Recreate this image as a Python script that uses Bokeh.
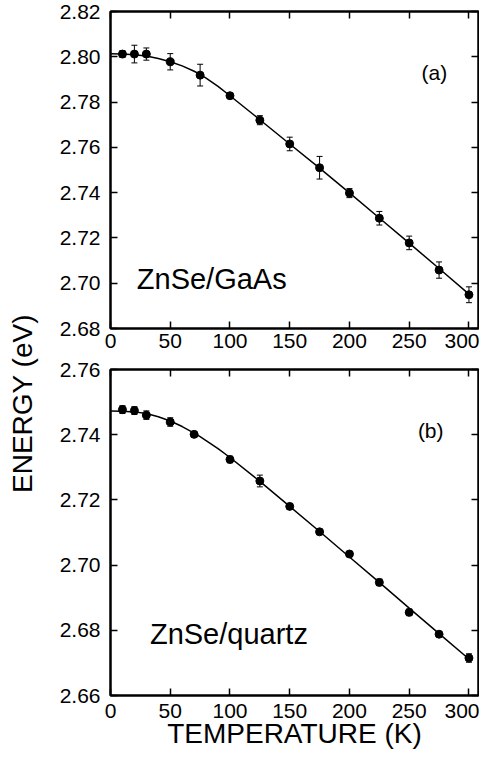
import math
from bokeh.plotting import figure
from bokeh.layouts import row, column
from bokeh.models import (ColumnDataSource, Whisker, TeeHead, LinearAxis, FixedTicker,
                          Range1d, Label, CustomJSTickFormatter, PrintfTickFormatter)
from bokeh.embed import file_html
from bokeh.resources import INLINE

# ---------------- data ----------------
temp_a = [10, 20, 30, 50, 75, 100, 125, 150, 175, 200, 225, 250, 275, 300]
energy_a = [2.8012, 2.8012, 2.8012, 2.7978, 2.7919, 2.7828, 2.7720, 2.7615, 2.7510,
            2.7398, 2.7287, 2.7178, 2.7058, 2.6949]
err_a = [0.0015, 0.0039, 0.0027, 0.0036, 0.0048, 0.0005, 0.0020, 0.0030, 0.0050,
         0.0020, 0.0030, 0.0030, 0.0036, 0.0035]

temp_b = [10, 20, 30, 50, 70, 100, 125, 150, 175, 200, 225, 250, 275, 300]
energy_b = [2.7477, 2.7474, 2.7460, 2.7439, 2.7401, 2.7324, 2.7258, 2.7180, 2.7102,
            2.7034, 2.6947, 2.6855, 2.6788, 2.6715]
err_b = [0.0012, 0.0012, 0.0013, 0.0013, 0.0008, 0.0010, 0.0018, 0.0008, 0.0008,
         0.0008, 0.0010, 0.0010, 0.0008, 0.0013]

fit_temp = [0, 10, 20, 30, 40, 50, 60, 70, 75, 80, 90, 100, 125, 150, 175, 200, 225,
            250, 275, 300]
fit_a = [2.8013, 2.8012, 2.8009, 2.8003, 2.7992, 2.7978, 2.7960, 2.7936, 2.7922, 2.7906,
         2.7869, 2.7828, 2.7722, 2.7615, 2.7508, 2.7399, 2.7288, 2.7177, 2.7065, 2.6952]
fit_b = [2.7473, 2.7472, 2.7470, 2.7465, 2.7455, 2.7442, 2.7425, 2.7405, 2.7394, 2.7382,
         2.7357, 2.7330, 2.7257, 2.7180, 2.7103, 2.7025, 2.6947, 2.6868, 2.6790, 2.6712]

x_ticks = [0, 50, 100, 150, 200, 250, 300]
y_ticks_a = [2.68, 2.70, 2.72, 2.74, 2.76, 2.78, 2.80, 2.82]
y_ticks_b = [2.66, 2.68, 2.70, 2.72, 2.74, 2.76]

FONT = "Liberation Sans"
TICK_FS = "21px"
BIG_FS = "28px"


def style_axes(p, yticks, x_standoff):
    p.grid.visible = False
    p.outline_line_color = "black"
    p.outline_line_width = 2
    xax = p.below[0]
    yax = p.left[0]
    for ax in (xax, yax):
        ax.axis_line_width = 2
        ax.major_tick_in = 7
        ax.major_tick_out = 0
        ax.major_tick_line_width = 1.5
        ax.minor_tick_line_color = None
        ax.major_label_text_font = FONT
        ax.major_label_text_font_size = TICK_FS
        ax.major_label_text_color = "black"
    xax.ticker = FixedTicker(ticks=x_ticks)
    xax.major_label_standoff = x_standoff
    yax.ticker = FixedTicker(ticks=yticks)
    yax.formatter = PrintfTickFormatter(format="%.2f")
    yax.major_label_standoff = 10
    # inner ticks on the opposite sides, without labels
    for loc, ticks in (("above", x_ticks), ("right", yticks)):
        ax = LinearAxis(ticker=FixedTicker(ticks=ticks),
                        formatter=CustomJSTickFormatter(code="return ''"),
                        major_tick_in=7, major_tick_out=0, major_tick_line_width=1.5,
                        minor_tick_line_color=None, axis_line_width=2,
                        major_label_text_font_size="1px", major_label_standoff=0)
        p.add_layout(ax, loc)
    return xax, yax


def draw_series(p, temps, energies, errs, fit_vals):
    src = ColumnDataSource(dict(
        x=temps, y=energies,
        upper=[e + d for e, d in zip(energies, errs)],
        lower=[e - d for e, d in zip(energies, errs)]))
    p.add_layout(Whisker(source=src, base="x", upper="upper", lower="lower",
                         line_color="black", line_width=1,
                         upper_head=TeeHead(size=6, line_width=1, line_color="black"),
                         lower_head=TeeHead(size=6, line_width=1, line_color="black")))
    p.line(fit_temp, fit_vals, line_color="black", line_width=1.5)
    p.scatter("x", "y", source=src, size=8, marker="circle",
              fill_color="black", line_color="black")


# ---------------- top panel (a) ----------------
p1 = figure(width=434, height=357, x_range=Range1d(0, 308), y_range=Range1d(2.68, 2.82),
            toolbar_location=None, output_backend="svg",
            min_border_left=65, min_border_right=1, min_border_top=11, min_border_bottom=29)
style_axes(p1, y_ticks_a, 5)
draw_series(p1, temp_a, energy_a, err_a, fit_a)
p1.add_layout(Label(x=271, y=2.793, text="(a)", text_align="center", text_baseline="middle",
                    text_font=FONT, text_font_size=TICK_FS, text_color="black"))
p1.add_layout(Label(x=22, y=2.702, text="ZnSe/GaAs", text_align="left",
                    text_baseline="alphabetic", text_font=FONT, text_font_size="29px",
                    text_color="black"))

# ---------------- bottom panel (b) ----------------
p2 = figure(width=434, height=394, x_range=Range1d(0, 308), y_range=Range1d(2.66, 2.76),
            toolbar_location=None, output_backend="svg",
            min_border_left=65, min_border_right=1, min_border_top=12, min_border_bottom=20)
xb, yb = style_axes(p2, y_ticks_b, 8)
xb.axis_label = "TEMPERATURE (K)"
xb.axis_label_text_font = FONT
xb.axis_label_text_font_size = BIG_FS
xb.axis_label_text_font_style = "normal"
xb.axis_label_text_color = "black"
xb.axis_label_standoff = -3
draw_series(p2, temp_b, energy_b, err_b, fit_b)
p2.add_layout(Label(x=268, y=2.7412, text="(b)", text_align="center", text_baseline="middle",
                    text_font=FONT, text_font_size=TICK_FS, text_color="black"))
p2.add_layout(Label(x=33, y=2.679, text="ZnSe/quartz", text_align="left",
                    text_baseline="alphabetic", text_font=FONT, text_font_size="29px",
                    text_color="black"))

# ---------------- shared y label ----------------
pl = figure(width=45, height=751, x_range=Range1d(0, 45), y_range=Range1d(0, 751),
            x_axis_type=None, y_axis_type=None, toolbar_location=None,
            output_backend="svg", min_border=0, outline_line_color=None)
pl.grid.visible = False
pl.add_layout(Label(x=22, y=348, text="ENERGY (eV)", angle=math.pi / 2,
                    text_align="center", text_baseline="middle", text_font=FONT,
                    text_font_size=BIG_FS, text_color="black"))

layout = row(pl, column(p1, p2))
open("out.html", "w").write(file_html(layout, INLINE))
